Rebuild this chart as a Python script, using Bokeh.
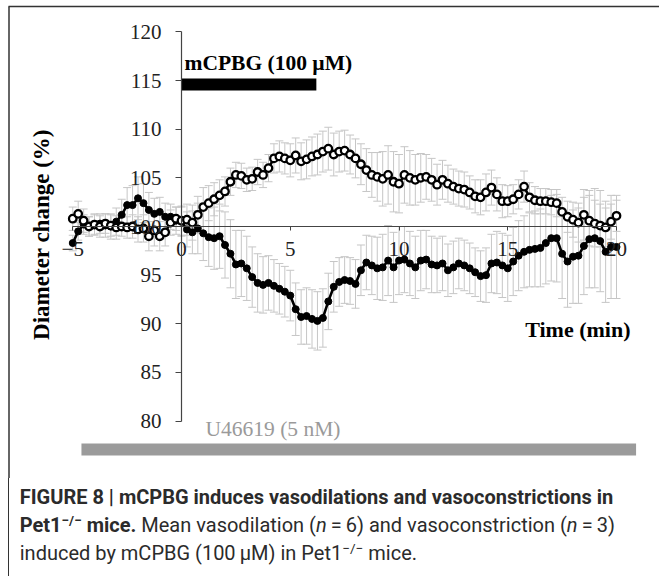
import math
from bokeh.plotting import figure
from bokeh.models import (ColumnDataSource, LinearAxis, Range1d, Whisker, TeeHead,
                          Label, Div, FixedTicker)
from bokeh.layouts import column
from bokeh.embed import file_html
from bokeh.resources import INLINE

# ---------------- data ----------------
time_min = [-5.0, -4.75, -4.5, -4.25, -4.0, -3.75, -3.5, -3.25, -3.0, -2.75,
            -2.5, -2.25, -2.0, -1.75, -1.5, -1.25, -1.0, -0.75, -0.5, -0.25,
            0.0, 0.25, 0.5, 0.75, 1.0, 1.25, 1.5, 1.75, 2.0, 2.25, 2.5, 2.75,
            3.0, 3.25, 3.5, 3.75, 4.0, 4.25, 4.5, 4.75, 5.0, 5.25, 5.5, 5.75,
            6.0, 6.25, 6.5, 6.75, 7.0, 7.25, 7.5, 7.75, 8.0, 8.25, 8.5, 8.75,
            9.0, 9.25, 9.5, 9.75, 10.0, 10.25, 10.5, 10.75, 11.0, 11.25, 11.5, 11.75,
            12.0, 12.25, 12.5, 12.75, 13.0, 13.25, 13.5, 13.75, 14.0, 14.25, 14.5, 14.75,
            15.0, 15.25, 15.5, 15.75, 16.0, 16.25, 16.5, 16.75, 17.0, 17.25, 17.5, 17.75,
            18.0, 18.25, 18.5, 18.75, 19.0, 19.25, 19.5, 19.75, 20.0]

vasodilation = [100.8, 101.3, 100.6, 100.0, 100.2, 100.0, 100.3, 100.1, 99.9, 100.0,
                99.9, 100.0, 99.7, 99.8, 99.0, 99.6, 99.0, 99.4, 100.4, 100.8,
                100.6, 100.7, 100.4, 101.2, 102.0, 102.4, 102.8, 103.2, 103.6, 104.6, 105.3, 105.2,
                104.8, 104.9, 105.6, 105.3, 106.0, 107.0, 107.2, 107.0, 106.8, 107.3, 106.7, 106.9,
                107.2, 107.4, 107.7, 108.0, 107.4, 107.7, 107.8, 107.4, 107.0, 106.4, 105.8, 105.3,
                105.1, 104.9, 105.3, 104.6, 104.4, 105.3, 105.0, 104.8, 105.0, 105.1, 104.8, 104.3,
                104.8, 104.4, 104.1, 103.9, 103.8, 103.5, 103.1, 103.0, 103.5, 104.0, 103.3, 102.6,
                102.6, 102.8, 103.3, 104.1, 103.0, 102.7, 102.6, 102.6, 102.5, 102.4, 101.5, 101.0,
                100.7, 100.4, 101.2, 100.6, 100.3, 100.1, 99.9, 100.5, 101.1]

vasodilation_sem = [1.2, 1.3, 1.2, 1.0, 1.0, 1.1, 1.0, 1.1, 1.2, 1.0,
                    1.1, 1.2, 1.3, 1.4, 1.5, 1.6, 1.5, 1.4, 1.3, 1.2,
                    1.5, 1.6, 1.8, 1.9, 2.0, 1.8, 1.7, 1.6, 1.5, 1.4, 1.3, 1.3,
                    1.2, 1.2, 1.3, 1.3, 1.4, 1.5, 1.6, 1.6, 1.7, 1.8, 1.9, 2.0,
                    2.0, 2.1, 2.1, 2.2, 2.2, 2.1, 2.1, 2.0, 2.0, 2.1, 2.2, 2.3,
                    2.5, 2.8, 3.0, 3.1, 3.0, 2.9, 2.8, 2.6, 2.5, 2.3, 2.2, 2.1,
                    2.0, 1.9, 1.8, 1.8, 1.8, 1.7, 1.7, 1.8, 1.9, 1.8, 1.7, 1.7,
                    1.6, 1.5, 1.5, 1.6, 1.5, 1.4, 1.3, 1.3, 1.3, 1.4, 1.5, 1.6,
                    1.8, 2.0, 2.6, 2.6, 2.4, 2.2, 2.0, 1.8, 1.6]

vasoconstriction = [98.3, 99.5, 100.2, 100.0, 100.2, 100.3, 100.1, 100.0, 100.5, 101.2,
                    102.2, 102.2, 102.9, 102.4, 101.7, 101.3, 101.5, 101.0, 101.0, 100.6,
                    100.5, 99.7, 99.4, 99.8, 99.3, 98.9, 98.8, 99.0, 98.1, 97.2, 96.1, 96.2,
                    95.7, 94.8, 94.2, 94.0, 94.2, 93.9, 93.6, 93.3, 92.9, 91.5, 90.7, 90.8,
                    90.5, 90.3, 90.6, 92.3, 93.8, 94.3, 94.5, 94.4, 94.1, 95.5, 96.3, 96.0,
                    95.7, 95.8, 96.5, 95.8, 96.5, 96.6, 96.2, 95.8, 96.5, 96.6, 96.1, 96.0,
                    96.2, 95.5, 95.8, 96.2, 96.0, 95.7, 95.3, 94.9, 95.0, 96.2, 96.3, 96.0,
                    95.7, 96.4, 97.0, 97.4, 97.6, 97.7, 97.8, 98.3, 98.8, 98.8, 97.2, 96.4,
                    96.9, 97.0, 98.0, 98.7, 98.8, 98.5, 97.4, 97.9, 97.9]

vasoconstriction_sem = [0.8, 0.9, 1.0, 1.0, 1.1, 1.0, 1.2, 1.3, 1.4, 1.6,
                        1.8, 2.0, 2.2, 2.0, 1.8, 1.6, 1.5, 1.4, 1.3, 1.4,
                        1.5, 1.8, 2.2, 2.6, 2.8, 3.0, 3.2, 3.3, 3.4, 3.5, 3.5, 3.4,
                        3.3, 3.1, 3.0, 2.9, 2.8, 2.7, 2.6, 2.6, 2.6, 2.7, 2.8, 2.9,
                        3.0, 3.0, 3.0, 2.9, 2.6, 2.5, 2.4, 2.4, 2.5, 2.6, 2.8, 3.0,
                        3.2, 3.4, 3.6, 3.6, 3.5, 3.4, 3.3, 3.2, 3.1, 3.0, 2.9, 2.8,
                        2.8, 2.7, 2.7, 2.6, 2.6, 2.6, 2.5, 2.6, 2.8, 3.0, 3.2, 3.3,
                        3.4, 3.5, 3.6, 3.7, 3.8, 3.9, 4.0, 4.2, 4.4, 4.5, 4.6, 4.7,
                        4.8, 4.9, 5.0, 5.0, 5.1, 5.2, 5.2, 5.3, 5.3]

x_ticks = [-5, 0, 5, 10, 15, 20]
y_ticks = [80, 85, 90, 95, 100, 105, 110, 115, 120]
mcpbg_period = [0.0, 6.2]        # min
u46619_period = [-4.6, 20.9]     # min
x_axis_bounds = [-5, 20]
y_axis_bounds = [80, 120]

# ---------------- layout calibration (canvas pixels) ----------------
W, H = 659, 478
CAP_H = 98
PX_MIN = 21.75          # px per minute
X0 = 181                # canvas x of t=0
PX_UNIT = 9.73          # px per %
Y100 = 226              # canvas y of 100 %

x_start = -X0 / PX_MIN
x_end = (W - X0) / PX_MIN
y_end = 100 + Y100 / PX_UNIT
y_start = 100 - (H - Y100) / PX_UNIT


def dx(px):
    return (px - X0) / PX_MIN


def dy(py):
    return 100 - (py - Y100) / PX_UNIT


SERIF = "Liberation Serif"

p = figure(width=W, height=H, output_backend="svg", toolbar_location=None,
           x_axis_type=None, y_axis_type=None,
           x_range=Range1d(x_start, x_end), y_range=Range1d(y_start, y_end),
           min_border=0)
p.outline_line_color = None
p.grid.visible = False
p.background_fill_color = "white"
p.border_fill_color = "white"

# axes crossing at (0, 100)
xax = LinearAxis(fixed_location=100, ticker=FixedTicker(ticks=x_ticks), bounds=tuple(x_axis_bounds))
yax = LinearAxis(fixed_location=0, ticker=FixedTicker(ticks=y_ticks), bounds=tuple(y_axis_bounds))
for ax in (xax, yax):
    ax.axis_line_color = "#444444"
    ax.axis_line_width = 1.2
    ax.major_tick_line_color = "#444444"
    ax.major_tick_in = 0
    ax.minor_tick_line_color = None
    ax.major_label_text_font = SERIF
    ax.major_label_text_font_size = "21px"
    ax.major_label_text_color = "#222222"
xax.major_tick_out = 4
xax.major_label_standoff = 11
yax.major_tick_out = 6
yax.major_label_standoff = 14
p.add_layout(xax, "below")
p.add_layout(yax, "left")

# error bars
src_d = ColumnDataSource(dict(t=time_min, v=vasodilation,
                              up=[v + e for v, e in zip(vasodilation, vasodilation_sem)],
                              lo=[v - e for v, e in zip(vasodilation, vasodilation_sem)]))
src_c = ColumnDataSource(dict(t=time_min, v=vasoconstriction,
                              up=[v + e for v, e in zip(vasoconstriction, vasoconstriction_sem)],
                              lo=[v - e for v, e in zip(vasoconstriction, vasoconstriction_sem)]))
ERR = "#c6c6c6"
for src in (src_c, src_d):
    w = Whisker(source=src, base="t", upper="up", lower="lo",
                line_color=ERR, line_width=1,
                upper_head=TeeHead(size=8, line_color=ERR, line_width=1),
                lower_head=TeeHead(size=8, line_color=ERR, line_width=1))
    p.add_layout(w)

# series
p.line("t", "v", source=src_c, line_color="black", line_width=2.6)
p.scatter("t", "v", source=src_c, size=7, marker="circle", fill_color="black", line_color="black")
p.line("t", "v", source=src_d, line_color="black", line_width=2.6)
p.scatter("t", "v", source=src_d, size=7.5, marker="circle", fill_color="white",
          line_color="black", line_width=2.3)

# drug bars
p.quad(left=[mcpbg_period[0]], right=[mcpbg_period[1]], bottom=[dy(90)], top=[dy(78)],
       fill_color="black", line_color=None)
p.quad(left=[u46619_period[0]], right=[u46619_period[1]], bottom=[dy(455)], top=[dy(443)],
       fill_color="#9b9b9b", line_color=None)

# labels
p.add_layout(Label(x=dx(184), y=dy(62), text="mCPBG (100 µM)", text_font=SERIF,
                   text_font_size="21.5px", text_font_style="bold", text_baseline="middle",
                   text_align="left", text_color="black"))
p.add_layout(Label(x=dx(630), y=dy(329), text="Time (min)", text_font=SERIF,
                   text_font_size="22px", text_font_style="bold", text_baseline="middle",
                   text_align="right", text_color="black"))
p.add_layout(Label(x=dx(205), y=dy(428), text="U46619 (5 nM)", text_font=SERIF,
                   text_font_size="21.5px", text_baseline="middle",
                   text_align="left", text_color="#9a9a9a"))
p.add_layout(Label(x=dx(41), y=dy(234), text="Diameter change (%)", text_font=SERIF,
                   text_font_size="23px", text_font_style="bold", text_baseline="middle",
                   text_align="center", angle=math.pi / 2, text_color="black"))

# frame lines (top and left)
p.segment(x0=[dx(8)], y0=[dy(6)], x1=[dx(W)], y1=[dy(6)], line_color="#333333", line_width=1.5)
p.segment(x0=[dx(8.5)], y0=[dy(6)], x1=[dx(8.5)], y1=[dy(H)], line_color="#333333", line_width=1.5)

sup = '<sup style="font-size:68%;line-height:0;vertical-align:0.5em">\u2212/\u2212</sup>'
caption_html = (
    '<div style="margin-left:7.75px;border-left:1.5px solid #333333;padding-left:11px;'
    f'padding-top:5px;height:{CAP_H}px;box-sizing:border-box;'
    "font-family:Roboto, 'Noto Sans', sans-serif;font-size:20px;line-height:28px;"
    'letter-spacing:0px;color:#2b2b2b;white-space:nowrap;">'
    "<b>FIGURE 8 | mCPBG induces vasodilations and vasoconstrictions in</b><br>"
    f"<b>Pet1{sup} mice.</b> Mean vasodilation (<i>n</i>\u2009=\u20096) and "
    "vasoconstriction (<i>n</i>\u2009=\u20093)<br>"
    f"induced by mCPBG (100\u2009\u00b5M) in Pet1{sup} mice."
    "</div>"
)
caption = Div(text=caption_html, width=W, height=CAP_H, margin=0)

layout = column(p, caption, spacing=0)
open("out.html", "w").write(file_html(layout, INLINE))
